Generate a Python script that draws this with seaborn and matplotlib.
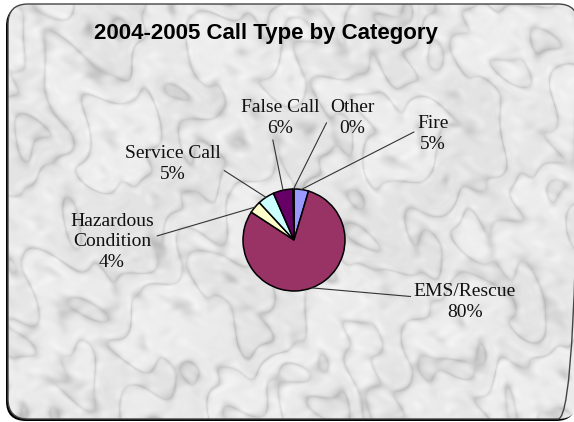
import matplotlib
matplotlib.use("Agg")
import matplotlib.pyplot as plt
from matplotlib.patches import FancyBboxPatch
import numpy as np
import seaborn as sns

# ── Data ─────────────────────────────────────────────────────────────────────
categories = ["Fire", "EMS/Rescue", "Hazardous\nCondition", "Service Call", "False Call", "Other"]
shares = [4.6, 79.6, 3.9, 5.3, 6.3, 0.3]
colors = ["#9999FF", "#993366", "#FFFFCC", "#CCFFFF", "#660066", "#FF8080"]
title = "2004-2005 Call Type by Category"

# label layout (pixel coords, y down): centre of text block, leader attach point
label_pos = {
    "Fire": ((433, 134), (0.0, 0.6)),
    "EMS/Rescue": ((465, 302), (0.0, 0.64)),
    "Hazardous\nCondition": ((112, 242), (0.98, 0.58)),
    "Service Call": ((173, 164), (0.88, 0.58)),
    "False Call": ((280, 118), (0.4, 0.0)),
    "Other": ((352, 118), (0.0, 0.55)),
}

W, H = 574, 422
CENTER = (294, 240)
RADIUS = 51

sns.set_theme(style="white")
plt.rcParams["font.family"] = ["Liberation Serif", "DejaVu Serif"]

fig = plt.figure(figsize=(W / 100, H / 100), dpi=100)
fig.patch.set_facecolor("white")
ax = fig.add_axes([0, 0, 1, 1])

# ── Marble-ish backdrop inside rounded frame ─────────────────────────────────
yy, xx = np.mgrid[0:H, 0:W].astype(float)
turb = (np.sin(xx / 41.0 + 2.1 * np.sin(yy / 29.0))
        + np.sin(yy / 47.0 + 1.7 * np.sin(xx / 23.0))
        + 0.6 * np.sin((xx + yy) / 17.0 + 2.0 * np.sin(xx / 13.0 - yy / 19.0)))
veins = np.abs(np.sin((0.7 * xx + 0.5 * yy) / 30.0 + 1.5 * turb))
mottle = (np.sin(xx / 5.3 + 1.3 * np.sin(yy / 4.1)) * np.sin(yy / 6.7 + np.cos(xx / 7.3)))
marble = 0.91 - 0.12 * (1 - veins) ** 3 - 0.05 * mottle * (1 - veins) ** 0.5 + 0.02 * np.sin(turb)

shadow = FancyBboxPatch((6, 6), 570, 415, boxstyle="round,pad=0,rounding_size=20",
                        facecolor="black", edgecolor="none", zorder=0)
ax.add_patch(shadow)
frame = FancyBboxPatch((8, 4), 570, 415, boxstyle="round,pad=0,rounding_size=20",
                       facecolor="none", edgecolor="#444444", linewidth=1.0, zorder=5)
ax.add_patch(frame)
im = ax.imshow(marble, cmap="gray", vmin=0, vmax=1, extent=[0, W, H, 0],
               origin="upper", interpolation="bilinear", zorder=1)
im.set_clip_path(frame)

# ── Pie ──────────────────────────────────────────────────────────────────────
palette = sns.color_palette(colors)
wedges, _ = ax.pie(shares, colors=palette, startangle=-90, counterclock=True,
                   center=CENTER, radius=RADIUS, frame=True,
                   wedgeprops=dict(edgecolor="black", linewidth=1.1))
for w in wedges:
    w.set_zorder(3)

for w, name, val in zip(wedges, categories, shares):
    mid = np.deg2rad((w.theta1 + w.theta2) / 2)
    px = CENTER[0] + RADIUS * np.cos(mid)
    py = CENTER[1] + RADIUS * np.sin(mid)
    (tx, ty), rel = label_pos[name]
    ax.annotate(f"{name}\n{round(val)}%", xy=(px, py), xytext=(tx, ty),
                ha="center", va="center", fontsize=14, color="#111111",
                linespacing=1.25, zorder=4,
                arrowprops=dict(arrowstyle="-", color="#333333", lw=0.8,
                                relpos=rel, shrinkA=0, shrinkB=0))

ax.text(266, 34, title, ha="center", va="center", fontsize=16,
        fontweight="bold", family=["Liberation Sans", "DejaVu Sans"], color="black", zorder=4)

ax.set_xlim(0, W)
ax.set_ylim(H, 0)
ax.set_aspect("auto")
ax.axis("off")

fig.savefig("out.png", dpi=100)
